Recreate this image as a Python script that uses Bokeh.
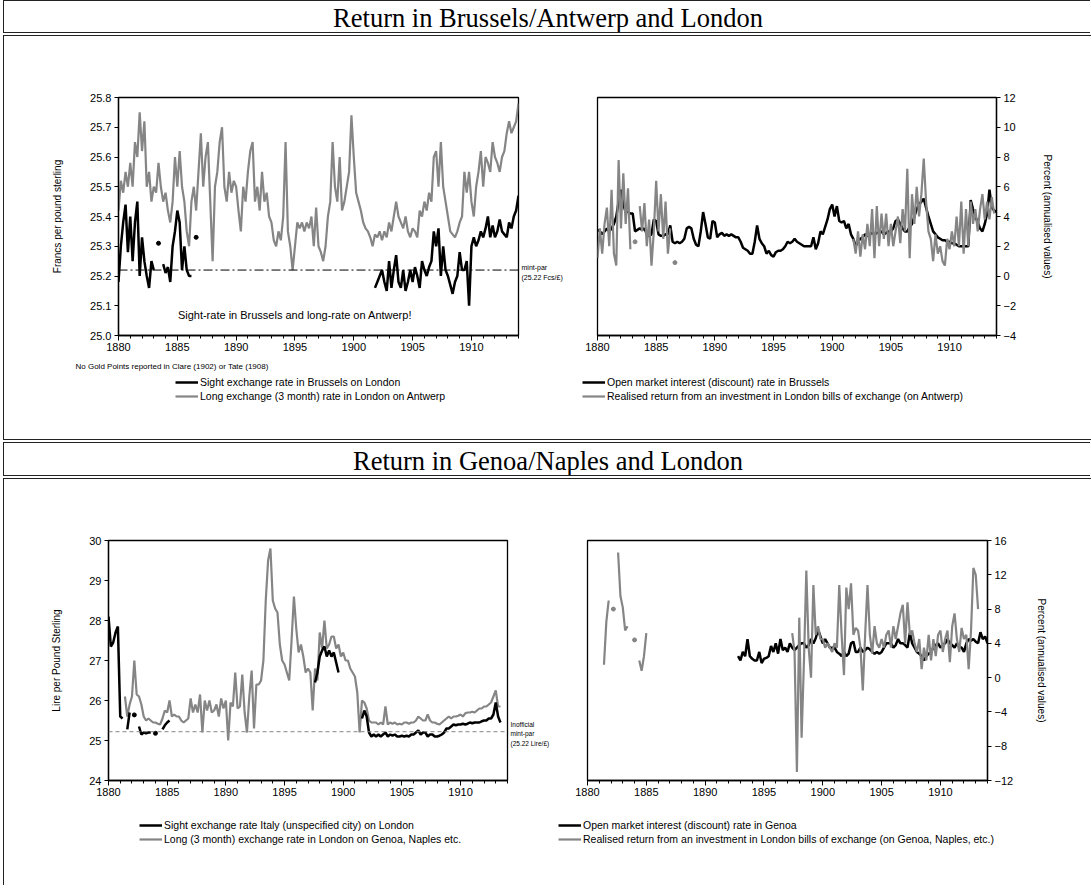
import numpy as np
from bokeh.plotting import figure
from bokeh.models import Range1d, Label, Legend, LegendItem, FixedTicker, Span, NumeralTickFormatter
from bokeh.layouts import column, row
from bokeh.embed import file_html
from bokeh.resources import INLINE

N = None
YEAR_START, YEAR_STEP = 1880, 0.2
X_MAJOR = [1880, 1885, 1890, 1895, 1900, 1905, 1910]
X_MINOR = list(range(1880, 1915))
MINT_PAR = 25.22

# ---------------- Brussels / Antwerp ----------------
sight_rate_brussels = [
    25.18, 25.30, 25.38, 25.44, 25.28,  # 1880
    25.40, 25.25, 25.38, 25.45, 25.20,  # 1881
    25.33, 25.25, 25.20, 25.16, 25.25,  # 1882
    25.22, N, 25.31, N, 25.24,          # 1883
    25.21, 25.23, 25.18, 25.30, 25.35,  # 1884
    25.42, 25.38, 25.22, 25.30, 25.22,  # 1885
    25.20, 25.20, N, 25.33, N,          # 1886
] + [N] * 70 + [                        # 1887-1900
    N, N, N, N, 25.16,                  # 1901
    25.18, 25.20, 25.22, 25.18, 25.15,  # 1902
    25.25, 25.16, 25.22, 25.27, 25.18,  # 1903
    25.16, 25.22, 25.15, 25.18, 25.22,  # 1904
    25.18, 25.23, 25.20, 25.16, 25.25,  # 1905
    25.22, 25.20, 25.23, 25.25, 25.35,  # 1906
    25.30, 25.36, 25.20, 25.30, 25.22,  # 1907
    25.20, 25.17, 25.14, 25.18, 25.20,  # 1908
    25.28, 25.22, 25.22, 25.25, 25.10,  # 1909
    25.30, 25.33, 25.30, 25.32, 25.35,  # 1910
    25.33, 25.36, 25.40, 25.33, 25.37,  # 1911
    25.33, 25.35, 25.39, 25.35, 25.34,  # 1912
    25.33, 25.38, 25.36, 25.40, 25.42,  # 1913
    25.47]                              # 1914

long_rate_london_on_antwerp = [
    25.42, 25.52, 25.48, 25.55, 25.50,  # 1880
    25.58, 25.50, 25.65, 25.60, 25.75,  # 1881
    25.62, 25.72, 25.50, 25.55, 25.45,  # 1882
    25.50, 25.48, 25.58, 25.50, 25.45,  # 1883
    25.48, 25.42, 25.38, 25.45, 25.60,  # 1884
    25.50, 25.62, 25.50, 25.45, 25.35,  # 1885
    25.30, 25.45, 25.50, 25.42, 25.55,  # 1886
    25.68, 25.50, 25.60, 25.65, 25.45,  # 1887
    25.25, 25.50, 25.55, 25.65, 25.70,  # 1888
    25.50, 25.45, 25.55, 25.48, 25.52,  # 1889
    25.50, 25.42, 25.35, 25.50, 25.45,  # 1890
    25.55, 25.62, 25.65, 25.45, 25.50,  # 1891
    25.42, 25.55, 25.45, 25.48, 25.40,  # 1892
    25.38, 25.32, 25.30, 25.35, 25.32,  # 1893
    25.40, 25.65, 25.35, 25.30, 25.22,  # 1894
    25.30, 25.38, 25.36, 25.38, 25.35,  # 1895
    25.38, 25.36, 25.40, 25.30, 25.43,  # 1896
    25.30, 25.28, 25.25, 25.30, 25.40,  # 1897
    25.45, 25.65, 25.50, 25.45, 25.60,  # 1898
    25.42, 25.45, 25.50, 25.55, 25.74,  # 1899
    25.60, 25.48, 25.45, 25.42, 25.38,  # 1900
    25.36, 25.35, 25.33, 25.30, 25.34,  # 1901
    25.33, 25.35, 25.32, 25.35, 25.33,  # 1902
    25.38, 25.35, 25.40, 25.45, 25.40,  # 1903
    25.38, 25.36, 25.40, 25.35, 25.33,  # 1904
    25.36, 25.35, 25.33, 25.42, 25.40,  # 1905
    25.45, 25.42, 25.48, 25.45, 25.60,  # 1906
    25.62, 25.50, 25.65, 25.50, 25.45,  # 1907
    25.40, 25.35, 25.34, 25.33, 25.35,  # 1908
    25.38, 25.40, 25.55, 25.48, 25.55,  # 1909
    25.45, 25.40, 25.50, 25.55, 25.62,  # 1910
    25.50, 25.60, 25.58, 25.55, 25.65,  # 1911
    25.60, 25.58, 25.55, 25.60, 25.62,  # 1912
    25.68, 25.72, 25.68, 25.70, 25.72,  # 1913
    25.78]                              # 1914

market_rate_brussels = [
    3.1, 3.0, 2.8, 3.0, 3.2,  # 1880
    3.0, 3.2, 3.5, 4.0, 5.0,  # 1881
    5.8, 4.8, 4.3, 4.3, 4.2,  # 1882
    4.2, 3.0, 3.1, 3.2, 3.1,  # 1883
    3.2, 2.8, 2.7, 2.8, 3.8,  # 1884
    3.7, 2.8, 2.7, 2.7, 2.8,  # 1885
    2.8, 3.4, 2.3, 2.2, 2.3,  # 1886
    2.2, 2.3, 2.5, 3.2, 3.3,  # 1887
    3.2, 2.5, 2.1, 2.0, 3.0,  # 1888
    4.3, 3.5, 2.6, 2.5, 3.7,  # 1889
    3.6, 2.6, 2.8, 2.9, 2.7,  # 1890
    2.8, 2.7, 2.8, 2.7, 2.6,  # 1891
    2.6, 2.3, 1.9, 1.8, 1.7,  # 1892
    1.5, 1.5, 2.3, 3.4, 2.5,  # 1893
    2.2, 2.0, 1.5, 1.7, 1.4,  # 1894
    1.3, 1.6, 1.7, 1.7, 1.8,  # 1895
    2.0, 2.3, 2.2, 2.3, 2.5,  # 1896
    2.3, 2.2, 2.1, 2.0, 2.0,  # 1897
    2.0, 2.0, 2.6, 1.8, 2.2,  # 1898
    3.0, 2.8, 3.3, 3.8, 4.5,  # 1899
    4.8, 4.0, 4.7, 3.7, 3.6,  # 1900
    3.7, 3.2, 3.5, 2.8, 2.5,  # 1901
    2.0, 2.3, 2.5, 2.6, 2.8,  # 1902
    2.7, 2.8, 2.9, 2.8, 2.9,  # 1903
    2.9, 3.0, 2.8, 2.9, 3.0,  # 1904
    3.0, 3.2, 3.7, 3.8, 3.5,  # 1905
    3.2, 3.0, 3.0, 3.3, 3.5,  # 1906
    4.0, 4.5, 4.8, 5.0, 5.2,  # 1907
    4.6, 4.0, 3.5, 3.0, 2.8,  # 1908
    2.6, 2.5, 2.4, 2.4, 2.3,  # 1909
    2.3, 2.2, 2.2, 2.1, 2.0,  # 1910
    2.0, 2.0, 2.0, 2.0, 5.1,  # 1911
    4.5, 4.0, 3.6, 3.2, 3.0,  # 1912
    3.5, 4.2, 5.8, 4.6, 4.4,  # 1913
    4.3]                      # 1914

realised_return_antwerp = [
    1.2, 3.2, 1.5, 3.5, 4.6,  # 1880
    2.0, 5.8, 1.5, 0.7, 7.8,  # 1881
    3.2, 6.9, 3.5, 5.9, 1.8,  # 1882
    N, 2.3, N, 4.7, 3.0,      # 1883
    4.9, 2.0, 3.8, 0.7, 3.0,  # 1884
    6.4, 3.0, 5.5, 2.5, 5.0,  # 1885
    1.5, 3.2, N, 0.9, N,      # 1886
] + [N] * 70 + [              # 1887-1900
    N, N, N, N, 2.5,          # 1901
    1.5, 3.0, 1.3, 2.8, 1.8,  # 1902
    3.5, 2.0, 4.5, 1.2, 4.7,  # 1903
    2.0, 4.2, 2.5, 4.2, 2.0,  # 1904
    3.5, 2.0, 3.0, 4.0, 2.2,  # 1905
    4.5, 3.0, 7.2, 1.2, 5.5,  # 1906
    3.5, 6.0, 4.0, 5.5, 7.9,  # 1907
    5.0, 3.0, 2.5, 1.0, 2.8,  # 1908
    1.5, 2.0, 1.0, 0.7, 2.5,  # 1909
    1.8, 3.0, 2.0, 4.0, 2.0,  # 1910
    5.0, 1.5, 4.5, 2.0, 5.0,  # 1911
    3.5, 4.5, 3.0, 4.5, 5.5,  # 1912
    3.8, 5.0, 3.8, 5.3, 4.2,  # 1913
    N]                        # 1914

# ---------------- Genoa / Naples ----------------
sight_rate_italy = [
    28.10, 27.35, 27.45, 27.70, 27.85,  # 1880
    25.60, 25.55, N, 25.28, 25.70,      # 1881
    N, 25.64, N, 25.35, 25.15,          # 1882
    25.20, 25.18, 25.20, 25.20, N,      # 1883
    25.18, N, N, 25.28, 25.38,          # 1884
    25.45, 25.50, N, N, N,              # 1885
] + [N] * 55 + [                        # 1886-1896
    N, N, N, 26.45, 26.70,              # 1897
    27.10, 27.25, 27.35, 27.10, 27.25,  # 1898
    27.10, 27.20, 26.95, 26.70, N,      # 1899
    N, N, N, N, N,                      # 1900
    N, N, N, 25.55, 25.75,              # 1901
    25.60, 25.20, 25.10, 25.15, 25.10,  # 1902
    25.15, 25.10, 25.15, 25.20, 25.10,  # 1903
    25.15, 25.12, 25.15, 25.10, 25.10,  # 1904
    25.12, 25.10, 25.12, 25.10, 25.15,  # 1905
    25.15, 25.20, 25.25, 25.15, 25.20,  # 1906
    25.20, 25.10, 25.15, 25.15, 25.10,  # 1907
    25.10, 25.12, 25.15, 25.20, 25.30,  # 1908
    25.30, 25.35, 25.40, 25.38, 25.40,  # 1909
    25.40, 25.42, 25.40, 25.42, 25.45,  # 1910
    25.43, 25.45, 25.45, 25.45, 25.48,  # 1911
    25.50, 25.50, 25.55, 25.55, 25.65,  # 1912
    25.95, 25.60, 25.45, N, N,          # 1913
    N]                                  # 1914

long_rate_london_on_genoa = [
    N, N, N, N, N,                      # 1880
    N, N, 26.10, 25.60, 25.90,          # 1881
    26.10, 27.00, 26.15, 26.10, 25.90,  # 1882
    25.60, 25.50, 25.55, 25.50, 25.45,  # 1883
    25.45, 25.42, 25.40, 25.55, 25.75,  # 1884
    25.70, 26.00, 25.60, 25.65, 25.60,  # 1885
    25.60, 25.50, 25.45, 25.50, 25.55,  # 1886
    26.05, 25.70, 25.90, 25.70, 26.15,  # 1887
    25.20, 26.00, 25.75, 26.00, 25.70,  # 1888
    25.75, 25.90, 25.60, 26.05, 25.80,  # 1889
    26.00, 25.00, 25.95, 25.85, 26.70,  # 1890
    25.80, 25.85, 26.65, 25.70, 25.20,  # 1891
    26.10, 26.75, 25.30, 26.40, 26.40,  # 1892
    26.50, 27.00, 28.50, 29.50, 29.80,  # 1893
    28.50, 28.30, 28.20, 27.40, 27.00,  # 1894
    26.90, 26.70, 26.50, 27.50, 28.60,  # 1895
    27.80, 27.20, 27.40, 27.10, 26.70,  # 1896
    26.80, 26.70, 25.75, 26.80, 26.50,  # 1897
    27.70, 27.30, 28.00, 27.30, 27.40,  # 1898
    27.60, 27.60, 27.30, 27.40, 27.10,  # 1899
    27.20, 27.00, 27.00, 26.80, 26.70,  # 1900
    26.60, 26.20, 25.20, 26.00, 25.95,  # 1901
    25.80, 25.50, 25.45, 25.45, 25.45,  # 1902
    25.40, 25.45, 25.40, 25.85, 25.40,  # 1903
    25.45, 25.42, 25.45, 25.40, 25.42,  # 1904
    25.40, 25.45, 25.45, 25.42, 25.45,  # 1905
    25.45, 25.50, 25.60, 25.55, 25.50,  # 1906
    25.50, 25.65, 25.50, 25.45, 25.45,  # 1907
    25.42, 25.40, 25.45, 25.50, 25.55,  # 1908
    25.60, 25.55, 25.60, 25.60, 25.62,  # 1909
    25.65, 25.60, 25.68, 25.70, 25.70,  # 1910
    25.72, 25.70, 25.75, 25.80, 25.80,  # 1911
    25.85, 25.85, 25.90, 25.95, 26.10,  # 1912
    26.25, 25.85, 25.85, N, N,          # 1913
    N]                                  # 1914

market_rate_genoa = [N] * 60 + [        # 1880-1891
    N, N, N, N, 2.5,          # 1892
    2.0, 3.0, 2.5, 4.5, 2.5,  # 1893
    2.2, 2.0, 2.0, 3.0, 1.7,  # 1894
    2.2, 2.3, 2.5, 3.7, 3.0,  # 1895
    4.0, 2.8, 4.5, 3.2, 3.5,  # 1896
    3.0, 4.0, 3.5, 3.2, 3.5,  # 1897
    3.8, 4.0, 4.0, 3.5, 3.8,  # 1898
    4.5, 4.0, 4.6, 5.6, 4.8,  # 1899
    4.0, 4.5, 4.0, 3.5, 3.5,  # 1900
    3.5, 3.0, 2.8, 2.5, 3.0,  # 1901
    2.5, 2.8, 4.0, 4.2, 3.0,  # 1902
    3.0, 3.5, 3.0, 3.2, 3.5,  # 1903
    3.3, 3.0, 2.8, 3.0, 2.8,  # 1904
    3.0, 3.5, 4.0, 4.0, 4.0,  # 1905
    3.5, 3.8, 4.5, 4.0, 4.0,  # 1906
    3.8, 3.5, 5.2, 4.0, 3.5,  # 1907
    3.0, 2.8, 2.5, 2.0, 2.5,  # 1908
    2.8, 3.0, 3.5, 3.8, 4.0,  # 1909
    3.5, 3.8, 4.0, 4.5, 4.0,  # 1910
    3.8, 3.5, 4.0, 3.6, 3.5,  # 1911
    3.0, 4.0, 4.5, 4.3, 4.5,  # 1912
    4.2, 4.0, 5.3, 4.5, 4.8,  # 1913
    4.0]                      # 1914

realised_return_genoa = [
    N, N, N, N, N,            # 1880
    N, N, 1.5, 6.5, 9.0,      # 1881
    N, 8.0, N, 14.6, 9.5,     # 1882
    8.2, 5.5, 6.0, N, N,      # 1883
    4.4, N, 2.0, 0.8, 2.5,    # 1884
    5.2, N, N, N, N,          # 1885
] + [N] * 55 + [              # 1886-1896
    N, N, 5.2, 3.0, -11.0,    # 1897
    7.0, -7.0, 2.0, 12.5, 3.5,  # 1898
    0.0, 10.8, 5.0, 6.0, 4.5,   # 1899
    4.5, 3.5, 4.0, 3.5, 3.0,    # 1900
    4.0, 3.5, 10.8, 5.0, 0.3,   # 1901
    10.5, 8.0, 11.0, 5.0, 5.8,  # 1902
    5.5, 3.5, -1.5, 5.0, 10.8,  # 1903
    5.0, 2.8, 6.0, 4.0, 3.5,    # 1904
    4.5, 3.5, 5.0, 5.5, 3.5,    # 1905
    6.0, 4.5, 6.0, 7.5, 8.5,    # 1906
    4.0, 8.8, 5.0, 5.5, 4.0,    # 1907
    3.0, 4.5, 1.0, 3.5, 2.0,    # 1908
    5.0, 2.0, 4.5, 2.5, 5.0,    # 1909
    5.5, 3.0, 4.5, 5.5, 1.8,    # 1910
    6.0, 7.5, 4.5, 3.0, 5.8,    # 1911
    4.5, 5.0, 1.0, 5.5, 12.8,   # 1912
    12.0, 8.0, N, N, N,         # 1913
    N]                          # 1914

SERIES = [sight_rate_brussels, long_rate_london_on_antwerp, market_rate_brussels,
          realised_return_antwerp, sight_rate_italy, long_rate_london_on_genoa,
          market_rate_genoa, realised_return_genoa]
for s in SERIES:
    assert len(s) == 171, len(s)

YEARS = np.round(YEAR_START + YEAR_STEP * np.arange(171), 2)

TITLE_TOP = "Return in Brussels/Antwerp and London"
TITLE_BOTTOM = "Return in Genoa/Naples and London"

SANS = "Liberation Sans"
SERIF = "Liberation Serif"
GRAY = "#858585"
EDGE = "1px solid #222"
W_BLACK, W_GRAY = 2.5, 2.2


def arr(s):
    return np.array([np.nan if v is None else v for v in s], dtype=float)


def draw(p, series, color, width):
    y = arr(series)
    r = p.line(YEARS, y, line_color=color, line_width=width)
    fin = np.isfinite(y)
    prev = np.concatenate([[False], fin[:-1]])
    nxt = np.concatenate([fin[1:], [False]])
    iso = fin & ~prev & ~nxt
    if iso.any():
        p.scatter(YEARS[iso], y[iso], size=4, color=color)
    return r


def bare(w, h, xr, yr, top=0, bottom=0):
    p = figure(width=w, height=h, x_range=xr, y_range=yr,
               x_axis_location=None, y_axis_location=None,
               min_border_left=0, min_border_right=0, min_border_top=top, min_border_bottom=bottom,
               output_backend="svg", toolbar_location=None)
    p.xgrid.visible = False
    p.ygrid.visible = False
    p.outline_line_color = None
    p.background_fill_color = "white"
    p.border_fill_color = "white"
    return p


def chart(w, h, left, right, top, bottom, yr, yticks, ylabel, side, standoff):
    p = figure(width=w, height=h, x_range=Range1d(1880, 1914), y_range=Range1d(*yr),
               y_axis_location=side, output_backend="svg", toolbar_location=None,
               min_border_left=left, min_border_right=right,
               min_border_top=top, min_border_bottom=bottom)
    p.xgrid.visible = False
    p.ygrid.visible = False
    p.outline_line_color = "black"
    p.outline_line_width = 1.3
    p.outline_line_alpha = 1
    p.background_fill_color = "white"
    p.border_fill_color = "white"
    for ax in p.xaxis + p.yaxis:
        ax.axis_line_color = "black"
        ax.axis_line_width = 1.3
        ax.major_tick_line_color = "black"
        ax.minor_tick_line_color = "black"
        ax.major_tick_in = 0
        ax.minor_tick_in = 0
        ax.major_label_text_font = SANS
        ax.major_label_text_font_size = "11px"
        ax.major_label_text_color = "black"
        ax.axis_label_text_font = SANS
        ax.axis_label_text_font_size = "10px"
        ax.axis_label_text_font_style = "normal"
        ax.axis_label_text_color = "black"
    xa = p.xaxis[0]
    xa.ticker = FixedTicker(ticks=X_MAJOR, minor_ticks=X_MINOR)
    xa.major_tick_out = 5
    xa.minor_tick_out = 3
    xa.major_label_standoff = 2
    ya = p.yaxis[0]
    ya.ticker = FixedTicker(ticks=yticks, minor_ticks=[])
    ya.major_tick_out = 4
    ya.major_label_standoff = 3
    ya.axis_label = ylabel
    ya.axis_label_standoff = standoff
    return p


def legend(p, labels, loc):
    # style-only renderers (no visible data) used as legend keys
    r1 = p.line([np.nan, np.nan], [np.nan, np.nan], line_color="black", line_width=W_BLACK)
    r2 = p.line([np.nan, np.nan], [np.nan, np.nan], line_color=GRAY, line_width=W_GRAY)
    lg = Legend(items=[LegendItem(label=labels[0], renderers=[r1]),
                       LegendItem(label=labels[1], renderers=[r2])], location=loc)
    lg.border_line_color = None
    lg.background_fill_alpha = 0
    lg.padding = 0
    lg.margin = 0
    lg.spacing = 0
    lg.glyph_width = 23
    lg.glyph_height = 14
    lg.label_height = 14
    lg.label_standoff = 2
    lg.label_text_font = SANS
    lg.label_text_font_size = "10.5px"
    lg.label_text_color = "black"
    p.add_layout(lg)


def lab(p, x, y, text, size="7px", xo=0, yo=0, align="left"):
    p.add_layout(Label(x=x, y=y, x_offset=xo, y_offset=yo, text=text, text_font=SANS,
                       text_font_size=size, text_align=align, text_baseline="middle",
                       text_color="black"))


def title_fig(text, h):
    p = figure(width=1087, height=h, x_range=Range1d(0, 1), y_range=Range1d(0, 1),
               x_axis_location=None, y_axis_location=None, min_border=0,
               output_backend="svg", toolbar_location=None,
               styles={"border-left": EDGE, "border-top": EDGE, "border-bottom": EDGE})
    p.xgrid.visible = False
    p.ygrid.visible = False
    p.outline_line_color = None
    p.add_layout(Label(x=0.5, y=0.5, text=text, text_font=SERIF, text_font_size="26.5px",
                       text_align="center", text_baseline="middle", text_color="black"))
    return p


# ================= box 1: Brussels / Antwerp =================
H1 = 322
tl = chart(516, H1, 114, 2, 61, 22, (25.0, 25.8),
           [25.0, 25.1, 25.2, 25.3, 25.4, 25.5, 25.6, 25.7, 25.8],
           "Francs per pound sterling", "left", 24)
tl.yaxis[0].formatter = NumeralTickFormatter(format="0.0")
draw(tl, long_rate_london_on_antwerp, GRAY, W_GRAY)
draw(tl, sight_rate_brussels, "black", W_BLACK)
tl.add_layout(Span(location=MINT_PAR, dimension="width", line_color="black",
                   line_width=1, line_dash="9 3 2 3"))
lab(tl, 1895.0, 25.07, "Sight-rate in Brussels and long-rate on Antwerp!", size="11px",
    align="center")

mid1 = bare(55, H1, Range1d(0, 55), tl.y_range, top=61, bottom=22)
lab(mid1, 1, MINT_PAR, "mint-par", yo=3)
lab(mid1, 1, MINT_PAR, "(25.22 Fcs/\u00a3)", yo=-7)

tr = chart(516, H1, 22, 95, 61, 23, (-4, 12), [-4, -2, 0, 2, 4, 6, 8, 10, 12],
           "Percent (annualised values)", "right", 23)
draw(tr, market_rate_brussels, "black", W_BLACK)
draw(tr, realised_return_antwerp, GRAY, W_GRAY)

S1 = 81
strip1 = bare(1087, S1, Range1d(0, 1087), Range1d(S1, 0))
lab(strip1, 71, 8, "No Gold Points reported in Clare (1902) or Tate (1908)", size="8px")
legend(strip1, ["Sight exchange rate in Brussels on London",
                "Long exchange (3 month) rate in London on Antwerp"], (171, 36))
legend(strip1, ["Open market interest (discount) rate in Brussels",
                "Realised return from an investment in London bills of exchange (on Antwerp)"],
       (578, 36))

# ================= box 2: Genoa / Naples =================
H2 = 323
bl = chart(505, H2, 104, 2, 61, 22, (24, 30), [24, 25, 26, 27, 28, 29, 30],
           "Lire per Pound Sterling", "left", 24)
draw(bl, long_rate_london_on_genoa, GRAY, W_GRAY)
draw(bl, sight_rate_italy, "black", W_BLACK)
bl.add_layout(Span(location=MINT_PAR, dimension="width", line_color=GRAY,
                   line_width=1, line_dash="4 3"))

mid2 = bare(49, H2, Range1d(0, 49), bl.y_range, top=61, bottom=22)
lab(mid2, 1, MINT_PAR, "Inofficial", size="6.5px", yo=7)
lab(mid2, 1, MINT_PAR, "mint-par", size="6.5px", yo=-2)
lab(mid2, 1, MINT_PAR, "(25.22 Lire/\u00a3)", size="6.5px", yo=-12)

br = chart(533, H2, 29, 104, 61, 22, (-12, 16), [-12, -8, -4, 0, 4, 8, 12, 16],
           "Percent (annualised values)", "right", 20)
draw(br, market_rate_genoa, "black", W_BLACK)
draw(br, realised_return_genoa, GRAY, W_GRAY)

S2 = 83
strip2 = bare(1087, S2, Range1d(0, 1087), Range1d(S2, 0))
legend(strip2, ["Sight exchange rate Italy (unspecified city) on London",
                "Long (3 month) exchange rate in London on Genoa, Naples etc."], (135, 39))
legend(strip2, ["Open market interest (discount) rate in Genoa",
                "Realised return from an investment in London bills of exchange (on Genoa, Naples, etc.)"],
       (554, 39))

t1 = title_fig(TITLE_TOP, 33)
t2 = title_fig(TITLE_BOTTOM, 34)
c1 = column(row(tl, mid1, tr), strip1,
            styles={"border-left": EDGE, "border-top": EDGE, "border-bottom": EDGE})
c2 = column(row(bl, mid2, br), strip2,
            styles={"border-left": EDGE, "border-top": EDGE})

page = column(t1, c1, t2, c2, spacing=2, styles={"margin-left": "3px"})

open("out.html", "w").write(file_html(page, INLINE))
